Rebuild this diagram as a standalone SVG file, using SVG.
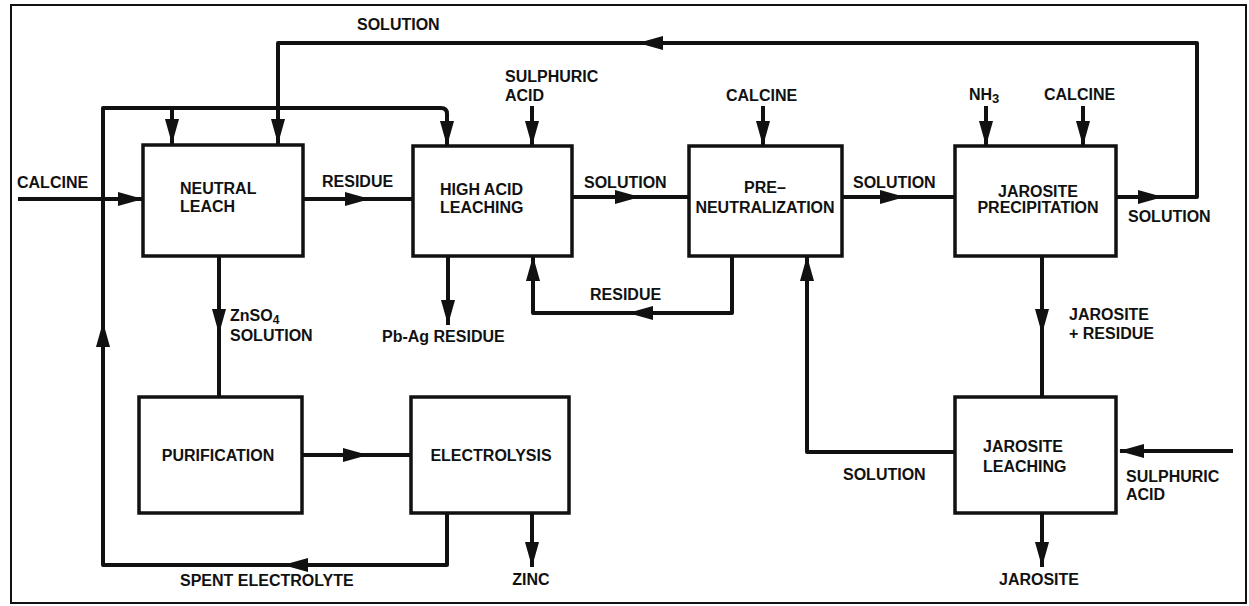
<svg xmlns="http://www.w3.org/2000/svg" xmlns:xlink="http://www.w3.org/1999/xlink" width="1249" height="606" viewBox="0 0 1249 606">
<style>
.box{fill:#fff;stroke:#111;stroke-width:3.5}
.ln{fill:none;stroke:#111;stroke-width:4;stroke-linejoin:round}
.t{font-family:"Liberation Sans",Arial,sans-serif;font-weight:bold;font-size:16px;fill:#111}
.m{text-anchor:middle}
.e{text-anchor:end}
</style>
<defs>
<polygon id="ah" points="0,0 -25,-7 -25,7" fill="#111"/>
</defs>
<rect x="0" y="0" width="1249" height="606" fill="#fff"/>
<rect x="11" y="5" width="1235" height="598" fill="none" stroke="#111" stroke-width="2"/>

<g id="connectors">
<path class="ln" d="M18,199 H143"/>
<path class="ln" d="M447,513 V565 H103 V108 H441 Q447,108 447,114 V146"/>
<path class="ln" d="M172,108 V144"/>
<path class="ln" d="M1116,197 H1197 V43 H278 V144"/>
<path class="ln" d="M303,199 H413"/>
<path class="ln" d="M572,197 H689"/>
<path class="ln" d="M842,197 H955"/>
<path class="ln" d="M532,106 V146"/>
<path class="ln" d="M763,106 V146"/>
<path class="ln" d="M986,106 V146"/>
<path class="ln" d="M1083,106 V146"/>
<path class="ln" d="M448,256 V325"/>
<path class="ln" d="M732,256 V313 H533 V256"/>
<path class="ln" d="M219,256 V397"/>
<path class="ln" d="M302,455 H411"/>
<path class="ln" d="M532,513 V567"/>
<path class="ln" d="M1042,256 V397"/>
<path class="ln" d="M955,452 H807 V256"/>
<path class="ln" d="M1233,451 H1120"/>
<path class="ln" d="M1042,513 V567"/>
<!-- arrowheads -->
<use xlink:href="#ah" transform="translate(143,199)"/>
<use xlink:href="#ah" transform="translate(283,565) rotate(180)"/>
<use xlink:href="#ah" transform="translate(103,322) rotate(-90)"/>
<use xlink:href="#ah" transform="translate(447,146) rotate(90)"/>
<use xlink:href="#ah" transform="translate(172,144) rotate(90)"/>
<use xlink:href="#ah" transform="translate(1163,197)"/>
<use xlink:href="#ah" transform="translate(638,43) rotate(180)"/>
<use xlink:href="#ah" transform="translate(278,144) rotate(90)"/>
<use xlink:href="#ah" transform="translate(370,199)"/>
<use xlink:href="#ah" transform="translate(640,197)"/>
<use xlink:href="#ah" transform="translate(905,197)"/>
<use xlink:href="#ah" transform="translate(532,146) rotate(90)"/>
<use xlink:href="#ah" transform="translate(763,146) rotate(90)"/>
<use xlink:href="#ah" transform="translate(986,146) rotate(90)"/>
<use xlink:href="#ah" transform="translate(1083,146) rotate(90)"/>
<use xlink:href="#ah" transform="translate(448,325) rotate(90)"/>
<use xlink:href="#ah" transform="translate(628,313) rotate(180)"/>
<use xlink:href="#ah" transform="translate(533,256) rotate(-90)"/>
<use xlink:href="#ah" transform="translate(219,334) rotate(90)"/>
<use xlink:href="#ah" transform="translate(368,455)"/>
<use xlink:href="#ah" transform="translate(532,567) rotate(90)"/>
<use xlink:href="#ah" transform="translate(1042,334) rotate(90)"/>
<use xlink:href="#ah" transform="translate(807,256) rotate(-90)"/>
<use xlink:href="#ah" transform="translate(1119,451) rotate(180)"/>
<use xlink:href="#ah" transform="translate(1042,567) rotate(90)"/>
</g>

<g id="labels">
<text class="t" x="17" y="188">CALCINE</text>
<text class="t" x="357" y="30">SOLUTION</text>
<text class="t" x="322" y="187">RESIDUE</text>
<text class="t" x="505" y="82">SULPHURIC</text>
<text class="t" x="505" y="101">ACID</text>
<text class="t" x="584" y="188">SOLUTION</text>
<text class="t" x="726" y="101">CALCINE</text>
<text class="t" x="853" y="188">SOLUTION</text>
<text class="t" x="969" y="100">NH<tspan font-size="13" dy="3">3</tspan></text>
<text class="t" x="1044" y="100">CALCINE</text>
<text class="t" x="1128" y="222">SOLUTION</text>
<text class="t" x="230" y="321">ZnSO<tspan font-size="12" dy="3">4</tspan></text>
<text class="t" x="230" y="341">SOLUTION</text>
<text class="t" x="382" y="342">Pb-Ag RESIDUE</text>
<text class="t" x="590" y="300">RESIDUE</text>
<text class="t" x="1069" y="320">JAROSITE</text>
<text class="t" x="1069" y="339">+ RESIDUE</text>
<text class="t" x="843" y="480">SOLUTION</text>
<text class="t" x="1126" y="482">SULPHURIC</text>
<text class="t" x="1126" y="500">ACID</text>
<text class="t" x="180" y="586">SPENT ELECTROLYTE</text>
<text class="t m" x="531" y="585">ZINC</text>
<text class="t m" x="1039" y="585">JAROSITE</text>
</g>

<g id="neutral-leach">
<rect class="box" x="143" y="145" width="160" height="111"/>
<text class="t" x="180" y="194">NEUTRAL</text>
<text class="t" x="180" y="212">LEACH</text>
</g>
<g id="high-acid-leaching">
<rect class="box" x="413" y="146" width="159" height="110"/>
<text class="t" x="440" y="195">HIGH ACID</text>
<text class="t" x="440" y="213">LEACHING</text>
</g>
<g id="pre-neutralization">
<rect class="box" x="689" y="146" width="153" height="110"/>
<text class="t m" x="765" y="193">PRE–</text>
<text class="t m" x="765" y="213">NEUTRALIZATION</text>
</g>
<g id="jarosite-precipitation">
<rect class="box" x="955" y="146" width="161" height="110"/>
<text class="t m" x="1038" y="197">JAROSITE</text>
<text class="t m" x="1038" y="213">PRECIPITATION</text>
</g>
<g id="purification">
<rect class="box" x="139" y="397" width="163" height="116"/>
<text class="t m" x="218" y="461">PURIFICATION</text>
</g>
<g id="electrolysis">
<rect class="box" x="411" y="397" width="158" height="116"/>
<text class="t m" x="491" y="461">ELECTROLYSIS</text>
</g>
<g id="jarosite-leaching">
<rect class="box" x="955" y="397" width="161" height="116"/>
<text class="t" x="983" y="452">JAROSITE</text>
<text class="t" x="983" y="472">LEACHING</text>
</g>
</svg>
